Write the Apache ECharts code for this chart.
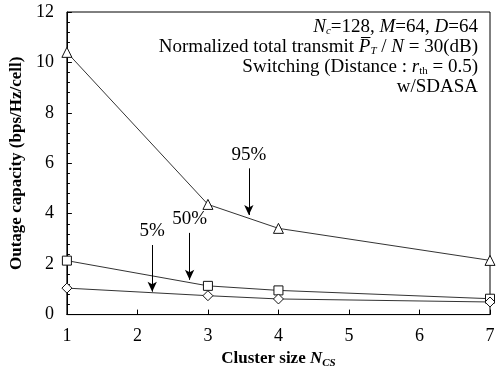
<!DOCTYPE html>
<html>
<head>
<meta charset="utf-8">
<script src="https://cdn.jsdelivr.net/npm/echarts@6/dist/echarts.min.js"></script>
<style>
  html, body { margin: 0; padding: 0; background: #fff; }
  #chart { width: 499px; height: 374px; }
</style>
</head>
<body>
<div id="chart"></div>
<script>
// cluster sizes on the x axis
const clusterSizes = [1, 3, 4, 7]
// outage capacity (bps/Hz/cell)
const cap95 = [10.4, 4.37, 3.42, 2.15]
const cap50 = [2.14, 1.14, 0.96, 0.63]
const cap5 = [1.05, 0.75, 0.62, 0.5]
// annotation arrows: x position, start and end value
const arrows = [
  { label: '95%', x: 3.58, from: 5.8, to: 3.95 },
  { label: '50%', x: 2.74, from: 3.24, to: 1.38 },
  { label: '5%', x: 2.21, from: 2.76, to: 0.91 }
]
// condition lines in the upper right corner
const notes = [
  '{i|N}{sub|c}=128, {i|M}=64, {i|D}=64',
  'Normalized total transmit {i|P\u0305}{sub|T} / {i|N} = 30(dB)',
  'Switching (Distance : {i|r}{subr|th} = 0.5)',
  'w/SDASA'
]

const serif = '"Liberation Serif", "DejaVu Serif", serif'
const chart = echarts.init(document.getElementById('chart'))

function pairs (ys) {
  return clusterSizes.map((x, i) => [x, ys[i]])
}

function lineSeries (name, ys, symbol, size) {
  return {
    name: name,
    type: 'line',
    data: pairs(ys),
    symbol: symbol,
    symbolSize: size,
    showAllSymbol: true,
    lineStyle: { color: '#333', width: 1 },
    itemStyle: { color: '#fff', borderColor: '#111', borderWidth: 1 },
    z: 3
  }
}

const noteRich = {
  i: { fontFamily: serif, fontStyle: 'italic', fontSize: 19 },
  sub: { fontFamily: serif, fontStyle: 'italic', fontSize: 11, verticalAlign: 'bottom', padding: [8, 0, 0, 0] },
  subr: { fontFamily: serif, fontSize: 11, verticalAlign: 'bottom', padding: [8, 0, 0, 0] }
}

const option = {
  animation: false,
  grid: {
    left: 65,
    right: 9,
    top: 12,
    bottom: 59,
    show: true,
    borderColor: '#000',
    borderWidth: 1
  },
  xAxis: {
    type: 'value',
    min: 1,
    max: 7,
    interval: 1,
    name: '{b|Cluster size }{bi|N}{sub|CS}',
    nameLocation: 'middle',
    nameGap: 33,
    nameTextStyle: {
      rich: {
        b: { fontFamily: serif, fontWeight: 'bold', fontSize: 17, color: '#000' },
        bi: { fontFamily: serif, fontWeight: 'bold', fontStyle: 'italic', fontSize: 17, color: '#000' },
        sub: { fontFamily: serif, fontWeight: 'bold', fontStyle: 'italic', fontSize: 11, color: '#000', verticalAlign: 'bottom', padding: [9, 0, 0, 0] }
      }
    },
    axisLine: { lineStyle: { color: '#000' } },
    axisTick: { inside: true, length: 5, lineStyle: { color: '#000' } },
    axisLabel: { fontFamily: serif, fontSize: 18, color: '#000', margin: 13 },
    splitLine: { show: false }
  },
  yAxis: {
    type: 'value',
    min: 0,
    max: 12,
    interval: 2,
    name: 'Outage capacity (bps/Hz/cell)',
    nameLocation: 'middle',
    nameGap: 34,
    nameTextStyle: { fontFamily: serif, fontWeight: 'bold', fontSize: 17, color: '#000' },
    axisLine: { lineStyle: { color: '#000' } },
    axisTick: { inside: true, length: 5, lineStyle: { color: '#000' } },
    minorTick: { show: true, splitNumber: 5, length: 3, lineStyle: { color: '#000' } },
    axisLabel: { fontFamily: serif, fontSize: 18, color: '#000', margin: 13 },
    splitLine: { show: false }
  },
  graphic: notes.map((t, k) => ({
    type: 'text',
    x: 478,
    y: 27 + k * 20,
    style: {
      text: t,
      align: 'right',
      verticalAlign: 'middle',
      font: '19px ' + serif,
      fill: '#000',
      rich: noteRich
    }
  })),
  series: [
    lineSeries('95%', cap95, 'triangle', 10),
    lineSeries('50%', cap50, 'rect', 9),
    lineSeries('5%', cap5, 'diamond', 10),
    {
      type: 'line',
      data: [],
      markLine: {
        silent: true,
        symbol: ['none', 'arrow'],
        symbolSize: [7, 10],
        lineStyle: { color: '#000', width: 1, type: 'solid' },
        label: {
          show: true,
          position: 'start',
          fontFamily: serif,
          fontSize: 19,
          color: '#000',
          distance: 4,
          formatter: p => p.name
        },
        data: arrows.map(a => [
          { name: a.label, coord: [a.x, a.from] },
          { coord: [a.x, a.to] }
        ])
      }
    }
  ]
}

chart.setOption(option)
</script>
</body>
</html>
